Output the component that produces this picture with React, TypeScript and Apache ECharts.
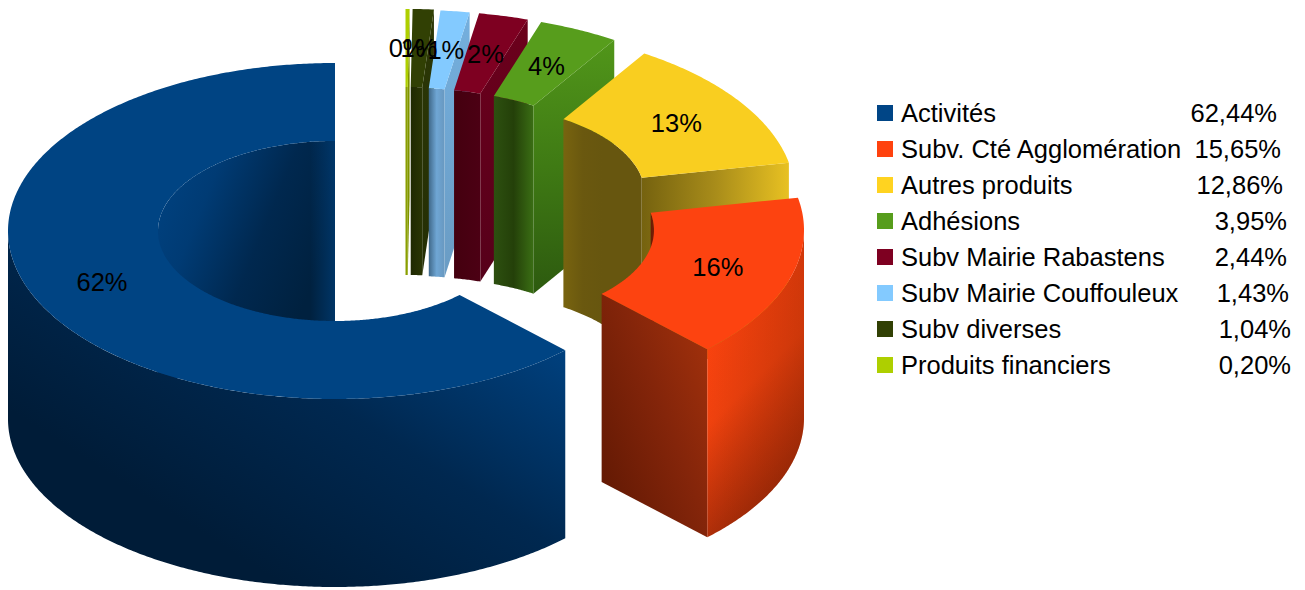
import React, { useEffect, useRef } from "react";
import * as echarts from "echarts";

// ---- data ----
const categories = ["Activités", "Subv. Cté Agglomération", "Autres produits", "Adhésions", "Subv Mairie Rabastens", "Subv Mairie Couffouleux", "Subv diverses", "Produits financiers"];
const values = [62.44, 15.65, 12.86, 3.95, 2.44, 1.43, 1.04, 0.2];
const valueLabels = ["62,44%", "15,65%", "12,86%", "3,95%", "2,44%", "1,43%", "1,04%", "0,20%"];
const legendColors = ["#004586", "#ff420e", "#ffd320", "#579d1c", "#7e0021", "#83caff", "#314004", "#aecf00"];
const topColors = ["#004483", "#fd4310", "#f9ce20", "#579d1c", "#7e0021", "#83caff", "#314004", "#aecf00"];

// ---- layout (styles, not values) ----
const RX = 327, RY = 168, IRX = 177, IRY = 90, DEPTH = 188;
const sliceCenterX = [335, 477, 468, 438, 424.5, 415, 408.5, 405.5];
const sliceCenterY = [231, 230, 195, 181.5, 179, 178, 177, 177];
const labelDx = [0, 0, 0, 0, 0, 0, -1, 0];
const labelDy = [1.5, -0.5, 0.5, 0.5, 0, 0, 0, 0];
const legendRight = [1277, 1281, 1283, 1287, 1287, 1289, 1291, 1291];
const FONT = '"Liberation Sans", Arial, sans-serif';

type G = [number, number, number, number, string[]];
const innerShade: G[] = [
  [0, 0, 0.85, 0.55, ["#004484", "#003b74", "#00284f", "#00213f"]],
  [0, 0, 1, 0, ["#661a04", "#7a1f06"]],
  [0, 0, 1, 0, ["#78640f", "#6a580f", "#67560f", "#67560f", "#67560f"]],
  [0, 0, 1, 0, ["#2d5010", "#244009", "#3a6e14"]],
  [0, 0, 1, 0, ["#44000f", "#4c0014"]],
  [0, 0, 1, 0, ["#40698a", "#6fa6d4", "#6898c0"]],
  [0, 0, 1, 0, ["#1f2902", "#2a3504"]],
  [0, 0, 1, 0, ["#8a9f00", "#8a9f00"]],
];
const cutShade: G[] = [
  [0, 0, 1, 0, ["#004483", "#004483"]],
  [1, 0.05, 0.1, 0.85, ["#a5320c", "#84250a", "#651a04"]],
  [0, 0, 1, 0, ["#75620f", "#a88c1a", "#e8c122"]],
  [0, 0, 0, 1, ["#51961a", "#3f7a14", "#2d5a0f"]],
  [0, 0, 0, 1, ["#6c001c", "#56001a"]],
  [0, 0, 0, 1, ["#74afde", "#6a9cc4"]],
  [0, 0, 0, 1, ["#2c3806", "#242e04"]],
  [0, 0, 0, 1, ["#7f9400", "#7f9400"]],
];
const outerShade: G[] = [
  [1, 0.3, 0.4, 0.9, ["#004281", "#002850", "#001c38"]],
  [0, 0.2, 0.25, 1, ["#ff430e", "#f0420e", "#a02a08"]],
  [0, 0, 1, 0, ["#e6bf22", "#e6bf22"]],
  [0, 0, 1, 0, ["#3f7a14", "#3f7a14"]],
  [0, 0, 1, 0, ["#6c001c", "#6c001c"]],
  [0, 0, 1, 0, ["#6a9cc4", "#6a9cc4"]],
  [0, 0, 1, 0, ["#2c3806", "#2c3806"]],
  [0, 0, 1, 0, ["#8a9f00", "#8a9f00"]],
];

const grad = (g: G) => ({
  type: "linear", x: g[0], y: g[1], x2: g[2], y2: g[3],
  colorStops: g[4].map((c, i) => ({ offset: i / (g[4].length - 1), color: c })),
});
const hGlow = (a: string, b: string, from = 0) => ({
  type: "linear", x: 0, y: 0, x2: 1, y2: 0,
  colorStops: [{ offset: from, color: a }, { offset: 1, color: b }],
});

// Angles run clockwise from 12 o'clock; the slices go counter-clockwise from the top.
const total = values.reduce((a, b) => a + b, 0);
const sliceAngles = values.map((_, i) => {
  const before = values.slice(0, i).reduce((a, b) => a + b, 0);
  return [360 - ((before + values[i]) / total) * 360, 360 - (before / total) * 360];
});
const rad = (d: number) => (d * Math.PI) / 180;
const pt = (cx: number, cy: number, rx: number, ry: number, a: number, dz = 0) => [
  cx + rx * Math.sin(rad(a)),
  cy - ry * Math.cos(rad(a)) + dz,
];
const arc = (cx: number, cy: number, rx: number, ry: number, a1: number, a2: number, dz = 0) => {
  const n = Math.max(2, Math.ceil(Math.abs(a2 - a1) * 2));
  const out: number[][] = [];
  for (let k = 0; k <= n; k++) out.push(pt(cx, cy, rx, ry, a1 + ((a2 - a1) * k) / n, dz));
  return out;
};

const renderSlice = (_: any, api: any) => {
  const i = api.value(0) as number;
  const [a1, a2] = sliceAngles[i];
  const cx = sliceCenterX[i], cy = sliceCenterY[i];
  const children: any[] = [];
  const poly = (points: number[][], fill: any) =>
    children.push({ type: "polygon", shape: { points }, style: { fill, stroke: "none" }, silent: true });

  // inner wall: the part of the hole's wall that faces the viewer (back half)
  const backRanges: number[][] = [];
  if (a1 < 90) backRanges.push([a1, Math.min(a2, 90)]);
  if (a2 > 270) backRanges.push([Math.max(a1, 270), a2]);
  backRanges.forEach(([s, e]) =>
    poly([...arc(cx, cy, IRX, IRY, s, e), ...arc(cx, cy, IRX, IRY, e, s, DEPTH)], grad(innerShade[i])));
  // lighter rim where the big slice's hole meets its straight edge
  if (a2 >= 359.9) {
    poly([...arc(cx, cy, IRX, IRY, a2 - 8, a2), ...arc(cx, cy, IRX, IRY, a2, a2 - 8, DEPTH)], hGlow("rgba(0,69,134,0)", "rgba(0,69,134,0.55)"));
  }

  // radial cut at the clockwise end
  if (a2 > 0 && a2 < 180) {
    poly([pt(cx, cy, IRX, IRY, a2), pt(cx, cy, RX, RY, a2), pt(cx, cy, RX, RY, a2, DEPTH), pt(cx, cy, IRX, IRY, a2, DEPTH)], grad(cutShade[i]));
  }
  // outer wall: the front half only
  const s = Math.max(a1, 90), e = Math.min(a2, 270);
  if (s < e) {
    const wall = [...arc(cx, cy, RX, RY, s, e), ...arc(cx, cy, RX, RY, e, s, DEPTH)];
    poly(wall, grad(outerShade[i]));
    // the second slice darkens towards its right-hand silhouette
    if (i === 1) poly(wall, hGlow("rgba(120,30,0,0)", "rgba(120,30,0,0.3)"));
  }

  // top face
  poly([...arc(cx, cy, RX, RY, a1, a2), ...arc(cx, cy, IRX, IRY, a2, a1)], topColors[i]);
  return { type: "group", children };
};

const renderLabel = (_: any, api: any) => {
  const i = api.value(0) as number;
  const [a1, a2] = sliceAngles[i];
  const p = pt(sliceCenterX[i], sliceCenterY[i], (RX + IRX) / 2, (RY + IRY) / 2, (a1 + a2) / 2);
  return {
    type: "text", silent: true,
    style: { x: p[0] + labelDx[i], y: p[1] + labelDy[i], text: `${Math.round(api.value(1))}%`, fill: "#000", font: `25.5px ${FONT}`, textAlign: "center", textVerticalAlign: "middle" },
  };
};

const legendGraphics = () => {
  const out: any[] = [];
  categories.forEach((c, i) => {
    const y = 113 + i * 36;
    out.push({ type: "rect", shape: { x: 877, y: y - 8, width: 16, height: 16 }, style: { fill: legendColors[i] }, silent: true });
    out.push({ type: "text", style: { x: 901, y, text: c, fill: "#000", font: `25.5px ${FONT}`, textAlign: "left", textVerticalAlign: "middle" }, silent: true });
    out.push({ type: "text", style: { x: legendRight[i], y, text: valueLabels[i], fill: "#000", font: `25.5px ${FONT}`, textAlign: "right", textVerticalAlign: "middle" }, silent: true });
  });
  return out;
};

export default function App() {
  const ref = useRef<HTMLDivElement>(null);
  useEffect(() => {
    const chart = echarts.init(ref.current!, undefined, { renderer: "svg" });
    const drawOrder = values.map((v, i) => [i, v]).reverse();
    chart.setOption({
      animation: false,
      backgroundColor: "#fff",
      series: [
        { type: "custom", coordinateSystem: "none", z: 2, silent: true, renderItem: renderSlice, data: drawOrder },
        { type: "custom", coordinateSystem: "none", z: 3, silent: true, renderItem: renderLabel, data: drawOrder },
      ],
      graphic: legendGraphics(),
    });
    return () => chart.dispose();
  }, []);
  return <div ref={ref} style={{ position: "absolute", left: 0, top: 0, width: 1305, height: 590 }} />;
}
